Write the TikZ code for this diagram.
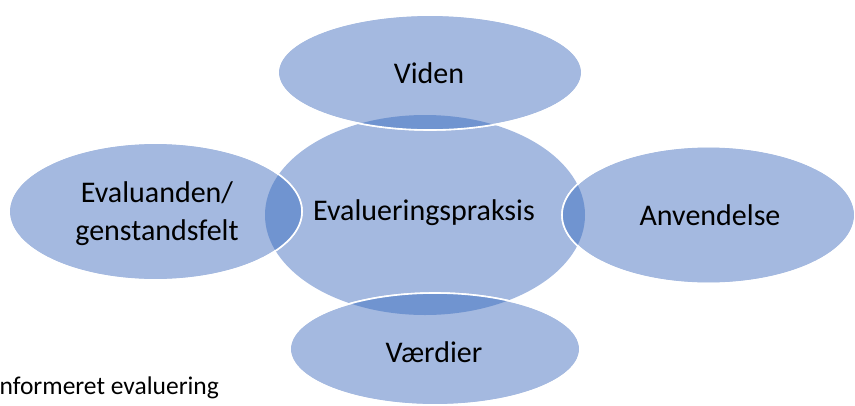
\documentclass[tikz,border=0pt]{standalone}
\usepackage{fontspec}
\setmainfont{Carlito}
\usetikzlibrary{shapes.geometric}
\definecolor{lightblue}{RGB}{164,185,224}
\definecolor{darkblue}{RGB}{112,148,208}
\begin{document}
\begin{tikzpicture}[x=1pt,y=-1pt,
  blob/.style={ellipse,inner sep=0pt,fill=lightblue},
  outline/.style={draw=white,line width=1.6pt},
  lbl/.style={font=\fontsize{30}{38}\selectfont,text=black,align=center}]
\useasboundingbox (0,0) rectangle (855,405);
% centre
\node[blob,minimum width=320pt,minimum height=200pt] (centre) at (425,215) {};
% outer ellipses
\node[blob,outline,minimum width=304pt,minimum height=115pt] (viden) at (430,72.5) {};
\node[blob,outline,minimum width=293pt,minimum height=137pt] (evaluand) at (155.5,211.5) {};
\node[blob,outline,minimum width=293pt,minimum height=137pt] (anv) at (708.5,215) {};
\node[blob,outline,minimum width=290pt,minimum height=112pt] (vaerdi) at (435,349) {};
% overlaps
\begin{scope}
  \clip (425,215) ellipse [x radius=160pt,y radius=100pt];
  \fill[darkblue] (430,72.5) ellipse [x radius=152pt,y radius=57.5pt];
  \fill[darkblue] (155.5,211.5) ellipse [x radius=146.5pt,y radius=68.5pt];
  \fill[darkblue] (708.5,215) ellipse [x radius=146.5pt,y radius=68.5pt];
  \fill[darkblue] (435,349) ellipse [x radius=145pt,y radius=56pt];
\end{scope}
\draw[outline] (430,72.5) ellipse [x radius=152pt,y radius=57.5pt];
\draw[outline] (155.5,211.5) ellipse [x radius=146.5pt,y radius=68.5pt];
\draw[outline] (708.5,215) ellipse [x radius=146.5pt,y radius=68.5pt];
\draw[outline] (435,349) ellipse [x radius=145pt,y radius=56pt];
% labels
\node[lbl] (tcentre) at (424,213) {Evalueringspraksis};
\node[lbl] (tviden) at (429,73) {Viden};
\node[lbl] (tevaluand) at (157,214) {Evaluanden/\\genstandsfelt};
\node[lbl] (tanv) at (710,215) {Anvendelse};
\node[lbl] (tvaerdi) at (434,352) {Værdier};
\node[font=\fontsize{25.5}{30}\selectfont,anchor=base west,inner sep=0pt] (caption) at (-6.5,394) {informeret evaluering};
\end{tikzpicture}
\end{document}
